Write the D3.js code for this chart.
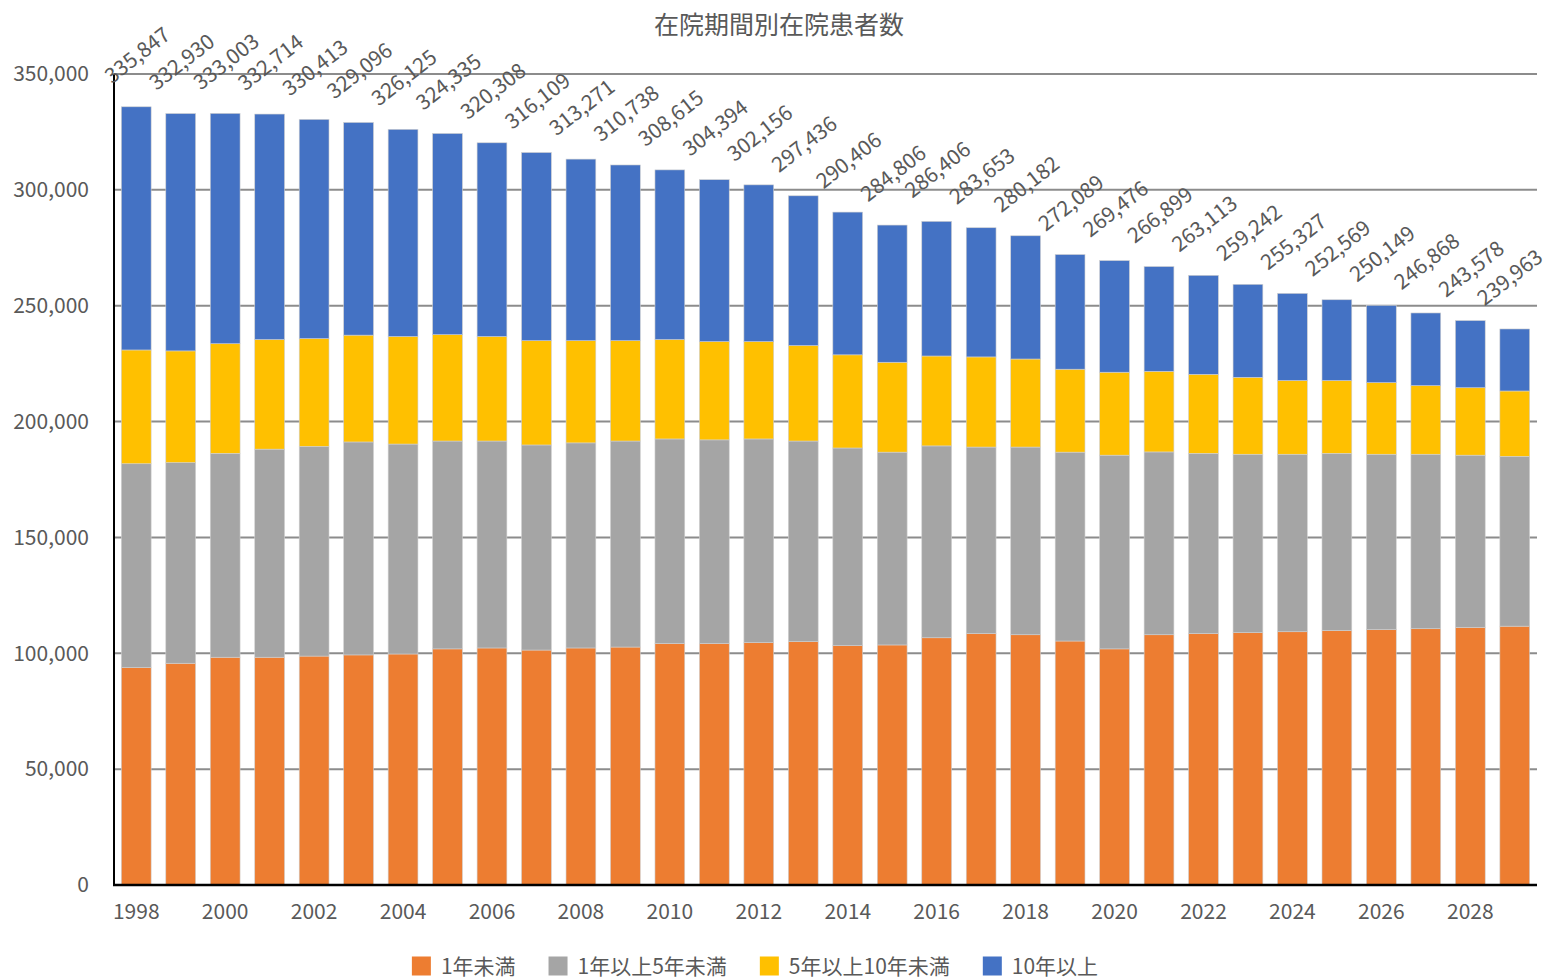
<!DOCTYPE html>
<html>
<head>
<meta charset="utf-8">
<script src="https://cdn.jsdelivr.net/npm/d3@7"></script>
<style>
  html, body { margin: 0; padding: 0; background: #fff; }
  svg text { font-family: "Noto Sans CJK JP", "Noto Sans", sans-serif; fill: #595959; }
</style>
</head>
<body>
<svg id="chart" width="1551" height="979"></svg>
<script>
const title = "在院期間別在院患者数";
const years = [1998,1999,2000,2001,2002,2003,2004,2005,2006,2007,2008,2009,2010,2011,2012,2013,
               2014,2015,2016,2017,2018,2019,2020,2021,2022,2023,2024,2025,2026,2027,2028,2029];
const seriesNames = ["1年未満", "1年以上5年未満", "5年以上10年未満", "10年以上"];
const seriesColors = ["#ED7D31", "#A5A5A5", "#FFC000", "#4472C4"];

const under1 = [93800,95700,98300,98300,98800,99300,99700,101900,102300,101400,102300,102700,104200,104200,104600,105000,
                103300,103600,106700,108500,108000,105300,101900,108000,108500,108900,109300,109800,110200,110600,111200,111700];
const y1to5 = [88000,86600,88000,89800,90500,91900,90600,89700,89300,88500,88500,88900,88300,87900,87900,86600,
               85300,83200,82800,80500,81000,81500,83600,78900,77800,77000,76600,76500,75700,75300,74300,73300];
const y5to10 = [49100,48200,47300,47300,46500,46100,46400,45900,45100,45000,44100,43300,42900,42400,42000,41200,
                40200,38800,38800,38900,38000,35800,35800,34800,34100,33200,31800,31400,30900,29600,29100,28200];
const over10 = [104947,102430,99403,97314,94613,91796,89425,86835,83608,81209,78371,75838,73215,69894,67656,64636,
                61606,59206,58106,55753,53182,49489,48176,45199,42713,40142,37627,34869,33349,31368,28978,26763];
const totals = [335847,332930,333003,332714,330413,329096,326125,324335,320308,316109,313271,310738,308615,304394,302156,297436,
                290406,284806,286406,283653,280182,272089,269476,266899,263113,259242,255327,252569,250149,246868,243578,239963];
const yTicks = [0,50000,100000,150000,200000,250000,300000,350000];
const xTickYears = [1998,2000,2002,2004,2006,2008,2010,2012,2014,2016,2018,2020,2022,2024,2026,2028];

const svg = d3.select("#chart");
const W = 1551;
const pLeft = 114, pRight = 1537, pTop = 74, pBottom = 885;

const x = d3.scaleBand().domain(years).range([pLeft, pRight]).paddingInner(0.33).paddingOuter(0.165);
const y = d3.scaleLinear().domain([0, 350000]).range([pBottom, pTop]);

const rows = years.map((yr, i) => ({year: yr, s0: under1[i], s1: y1to5[i], s2: y5to10[i], s3: over10[i], total: totals[i]}));
const stack = d3.stack().keys(["s0","s1","s2","s3"]);
const layers = stack(rows);

// title
svg.append("text").attr("x", 779).attr("y", 34).attr("text-anchor", "middle")
  .style("font-size", "25px").text(title);

// gridlines
svg.append("g").selectAll("line").data(yTicks.filter(d => d > 0)).join("line")
  .attr("x1", pLeft).attr("x2", pRight)
  .attr("y1", d => y(d)).attr("y2", d => y(d))
  .attr("stroke", "#8c8c8c").attr("stroke-width", 2);

// y axis
const yAxis = d3.axisLeft(y).tickValues(yTicks).tickSize(0).tickPadding(25)
  .tickFormat(d3.format(","));
const gy = svg.append("g").attr("transform", `translate(${pLeft},0)`).call(yAxis);
gy.select(".domain").remove();
gy.selectAll("text").style("font-size", "21px").attr("fill", "#595959");

// bars
svg.append("g").selectAll("g").data(layers).join("g")
  .attr("fill", (d, i) => seriesColors[i])
  .selectAll("rect").data(d => d).join("rect")
  .attr("x", d => x(d.data.year))
  .attr("width", x.bandwidth())
  .attr("y", d => y(d[1]))
  .attr("height", d => y(d[0]) - y(d[1]))
  .attr("stroke", "#d0d0d0").attr("stroke-width", 0.6);

// axis lines
svg.append("line").attr("x1", pLeft).attr("x2", pLeft).attr("y1", pTop).attr("y2", pBottom)
  .attr("stroke", "#000").attr("stroke-width", 2);

const xAxis = d3.axisBottom(x).tickValues(xTickYears).tickSize(0).tickPadding(19);
const gx = svg.append("g").attr("transform", `translate(0,${pBottom})`).call(xAxis);
gx.select(".domain").remove();
gx.selectAll("text").style("font-size", "21px").attr("fill", "#595959");
svg.append("line").attr("x1", pLeft - 1).attr("x2", pRight).attr("y1", pBottom).attr("y2", pBottom)
  .attr("stroke", "#000").attr("stroke-width", 2.5);

// total labels (kept inside the chart area like the original)
const labels = svg.append("g").selectAll("text").data(rows).join("text")
  .attr("text-anchor", "middle").attr("dominant-baseline", "central")
  .style("font-size", "21px")
  .text(d => d3.format(",")(d.total));
labels.each(function(d) {
  const el = d3.select(this);
  let cx = x(d.year) + x.bandwidth() / 2;
  const cy = y(d.total) - 53;
  el.attr("transform", `translate(${cx},${cy}) rotate(-38)`);
  const bb = this.getBoundingClientRect();
  if (bb.right > W - 3) {
    cx -= (bb.right - (W - 3));
    el.attr("transform", `translate(${cx},${cy}) rotate(-38)`);
  }
});

// legend
const lg = svg.append("g").attr("transform", "translate(0,964)");
const items = [];
seriesNames.forEach((name, i) => {
  const g = lg.append("g");
  g.append("rect").attr("x", 0).attr("y", -7.5).attr("width", 19).attr("height", 19).attr("fill", seriesColors[i]);
  const t = g.append("text").attr("x", 29).attr("y", 1).attr("dominant-baseline", "central")
    .style("font-size", "21px").text(name);
  const w = 29 + t.node().getComputedTextLength();
  items.push({g, w});
});
const gap = 33;
const totalW = items.reduce((a, b) => a + b.w, 0) + gap * (items.length - 1);
let lx = 755 - totalW / 2;
items.forEach(it => { it.g.attr("transform", `translate(${lx},0)`); lx += it.w + gap; });
</script>
</body>
</html>
